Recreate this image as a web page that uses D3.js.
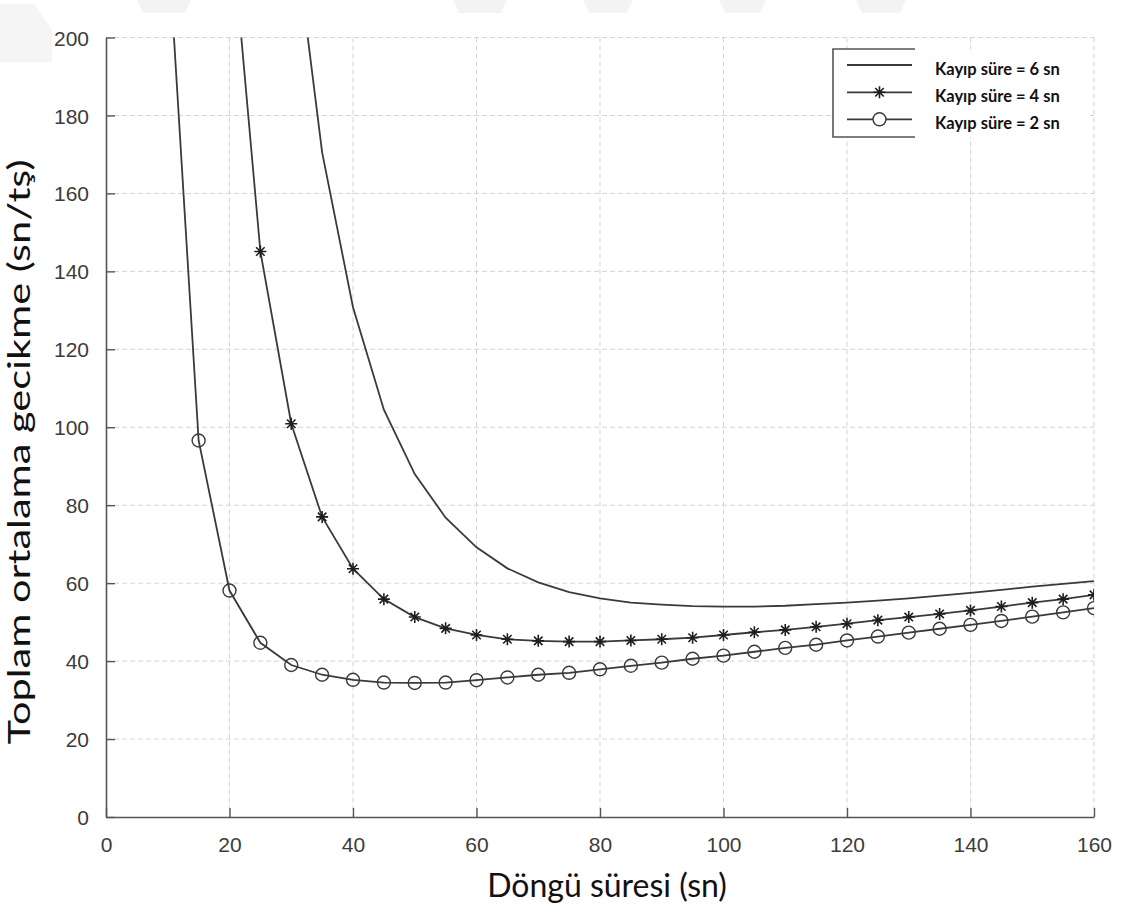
<!DOCTYPE html>
<html>
<head>
<meta charset="utf-8">
<script src="https://cdn.jsdelivr.net/npm/d3@7"></script>
<style>
  body { margin: 0; background: #fff; }
  svg { display: block; }
</style>
</head>
<body>
<svg id="chart" width="1127" height="908"></svg>
<script>
// ---- data ----
const cycle2 = [10, 15, 20, 25, 30, 35, 40, 45, 50, 55, 60, 65, 70, 75, 80, 85, 90, 95, 100,
    105, 110, 115, 120, 125, 130, 135, 140, 145, 150, 155, 160];
const delay2 = [226, 96.6, 58.1, 44.7, 39.0, 36.5, 35.2, 34.5, 34.4, 34.5, 35.1, 35.8, 36.5, 37.0, 37.9,
    38.8, 39.6, 40.6, 41.4, 42.4, 43.4, 44.2, 45.3, 46.3, 47.3, 48.3, 49.3, 50.3, 51.4, 52.5, 53.6];

const cycle4 = [20, 25, 30, 35, 40, 45, 50, 55, 60, 65, 70, 75, 80, 85, 90, 95, 100,
    105, 110, 115, 120, 125, 130, 135, 140, 145, 150, 155, 160];
const delay4 = [234, 145.1, 100.9, 77.0, 63.7, 55.9, 51.3, 48.4, 46.7, 45.6, 45.2, 45.0, 45.0,
    45.3, 45.6, 46.0, 46.7, 47.4, 48.0, 48.8, 49.6, 50.5, 51.3, 52.1, 53.0, 54.0, 55.0, 55.9, 57.0];

const cycle6 = [30, 35, 40, 45, 50, 55, 60, 65, 70, 75, 80, 85, 90, 95, 100,
    105, 110, 115, 120, 125, 130, 135, 140, 145, 150, 155, 160];
const delay6 = [234, 170.5, 130.8, 104.5, 88.0, 76.8, 69.2, 63.8, 60.2, 57.7, 56.1, 55.0, 54.5, 54.1,
    54.0, 54.0, 54.2, 54.6, 55.0, 55.5, 56.1, 56.8, 57.5, 58.3, 59.1, 59.8, 60.5];

const xTicks = [0, 20, 40, 60, 80, 100, 120, 140, 160];
const yTicks = [0, 20, 40, 60, 80, 100, 120, 140, 160, 180, 200];

const legendLabels = ["Kayıp süre = 6 sn", "Kayıp süre = 4 sn", "Kayıp süre = 2 sn"];
const xTitle = "Döngü süresi (sn)";
const yTitle = "Toplam ortalama gecikme (sn/tş)";

// ---- layout ----
const svg = d3.select("#chart");
const plot = { left: 106, right: 1094, top: 37.5, bottom: 817 };
const ink = "#3a3a3a";

const x = d3.scaleLinear().domain([0, 160]).range([plot.left, plot.right]);
const y = d3.scaleLinear().domain([0, 200]).range([plot.bottom, plot.top]);

// faint watermark shapes along the top edge
const marks = [[137, 191], [453, 507], [583, 633], [719, 766], [856, 906]];
svg.append("g").selectAll("path").data(marks).enter().append("path")
    .attr("d", d => `M${d[0]},0 L${d[1]},0 L${d[1] - 6},13 L${d[0] + 6},13 Z`)
    .attr("fill", "#f3f3f3");
svg.append("path")
    .attr("d", "M0,4 L34,4 L52,30 L52,62 L0,62 Z")
    .attr("fill", "#f5f5f5");

svg.append("defs").append("clipPath").attr("id", "clip")
    .append("rect")
    .attr("x", plot.left).attr("y", plot.top)
    .attr("width", plot.right - plot.left).attr("height", plot.bottom - plot.top);

// grid
const grid = svg.append("g").attr("class", "grid")
    .attr("stroke", "#d4d4d4").attr("stroke-width", 1).attr("stroke-dasharray", "5,3");
grid.selectAll("line.gx").data(xTicks.slice(1)).enter().append("line")
    .attr("x1", d => x(d)).attr("x2", d => x(d))
    .attr("y1", plot.top).attr("y2", plot.bottom);
grid.selectAll("line.gy").data(yTicks.slice(1)).enter().append("line")
    .attr("y1", d => y(d)).attr("y2", d => y(d))
    .attr("x1", plot.left).attr("x2", plot.right);

// axes (ticks pointing inward)
const xAxis = d3.axisBottom(x).tickValues(xTicks).tickSize(-9).tickPadding(20).tickSizeOuter(0);
const yAxis = d3.axisLeft(y).tickValues(yTicks).tickSize(-9).tickPadding(17).tickSizeOuter(0);

const gx = svg.append("g").attr("transform", `translate(0,${plot.bottom})`).call(xAxis);
const gy = svg.append("g").attr("transform", `translate(${plot.left},0)`).call(yAxis);
[gx, gy].forEach(g => {
    g.select(".domain").attr("stroke", "#555").attr("stroke-width", 1.6);
    g.selectAll(".tick line").attr("stroke", "#555").attr("stroke-width", 1.4);
    g.selectAll(".tick text")
        .attr("fill", "#3c3c3c")
        .style("font-family", "'Liberation Sans', Arial, sans-serif")
        .style("font-size", "21px");
});
gy.selectAll(".tick text").attr("dy", "0.36em");

// series
const line = d3.line().x(d => x(d[0])).y(d => y(d[1]));
const s6 = d3.zip(cycle6, delay6);
const s4 = d3.zip(cycle4, delay4);
const s2 = d3.zip(cycle2, delay2);

const curves = svg.append("g").attr("clip-path", "url(#clip)");

[s6, s4, s2].forEach(s => {
    curves.append("path")
        .datum(s)
        .attr("d", line)
        .attr("fill", "none")
        .attr("stroke", ink)
        .attr("stroke-width", 1.8);
});

function star(g, cx, cy, r) {
    const a = r * 0.7071;
    g.append("path")
        .attr("d", `M${cx - r},${cy}H${cx + r}M${cx},${cy - r}V${cy + r}` +
            `M${cx - a},${cy - a}L${cx + a},${cy + a}M${cx - a},${cy + a}L${cx + a},${cy - a}`)
        .attr("stroke", "#1e1e1e").attr("stroke-width", 1.6).attr("fill", "none");
}

s4.forEach(d => star(curves, x(d[0]), y(d[1]), 6));

curves.selectAll("circle.m2").data(s2).enter().append("circle")
    .attr("class", "m2")
    .attr("cx", d => x(d[0])).attr("cy", d => y(d[1]))
    .attr("r", 6.5)
    .attr("fill", "none")
    .attr("stroke", ink)
    .attr("stroke-width", 1.4);

// legend
const lg = svg.append("g");
lg.append("rect")
    .attr("x", 833).attr("y", 49).attr("width", 254).attr("height", 88)
    .attr("fill", "#fff");
lg.append("path")
    .attr("d", "M915,49 H833 V137 H915")
    .attr("fill", "none").attr("stroke", "#555").attr("stroke-width", 1.6);

const rowY = [65, 92.3, 119.3];
legendLabels.forEach((label, i) => {
    lg.append("line")
        .attr("x1", 847).attr("x2", 912)
        .attr("y1", rowY[i]).attr("y2", rowY[i])
        .attr("stroke", ink).attr("stroke-width", 1.8);
    if (i === 1) star(lg, 879.5, rowY[i], 6);
    if (i === 2) lg.append("circle")
        .attr("cx", 879.5).attr("cy", rowY[i]).attr("r", 6.5)
        .attr("fill", "#fff").attr("stroke", ink).attr("stroke-width", 1.4);
    lg.append("text")
        .attr("x", 935).attr("y", rowY[i] + 9.5)
        .style("font-family", "Lato, 'Open Sans', sans-serif")
        .style("font-weight", "bold")
        .style("font-size", "16.5px")
        .attr("fill", "#111")
        .text(label);
});

// axis titles
svg.append("text")
    .attr("x", 607).attr("y", 897)
    .attr("text-anchor", "middle")
    .style("font-family", "Lato, 'Open Sans', sans-serif")
    .style("font-size", "32px")
    .attr("fill", "#111")
    .text(xTitle);

svg.append("text")
    .attr("transform", "translate(30,452) rotate(-90)")
    .attr("text-anchor", "middle")
    .attr("textLength", 585)
    .attr("lengthAdjust", "spacingAndGlyphs")
    .style("font-family", "Lato, 'Open Sans', sans-serif")
    .style("font-size", "30px")
    .attr("fill", "#111")
    .text(yTitle);
</script>
</body>
</html>
